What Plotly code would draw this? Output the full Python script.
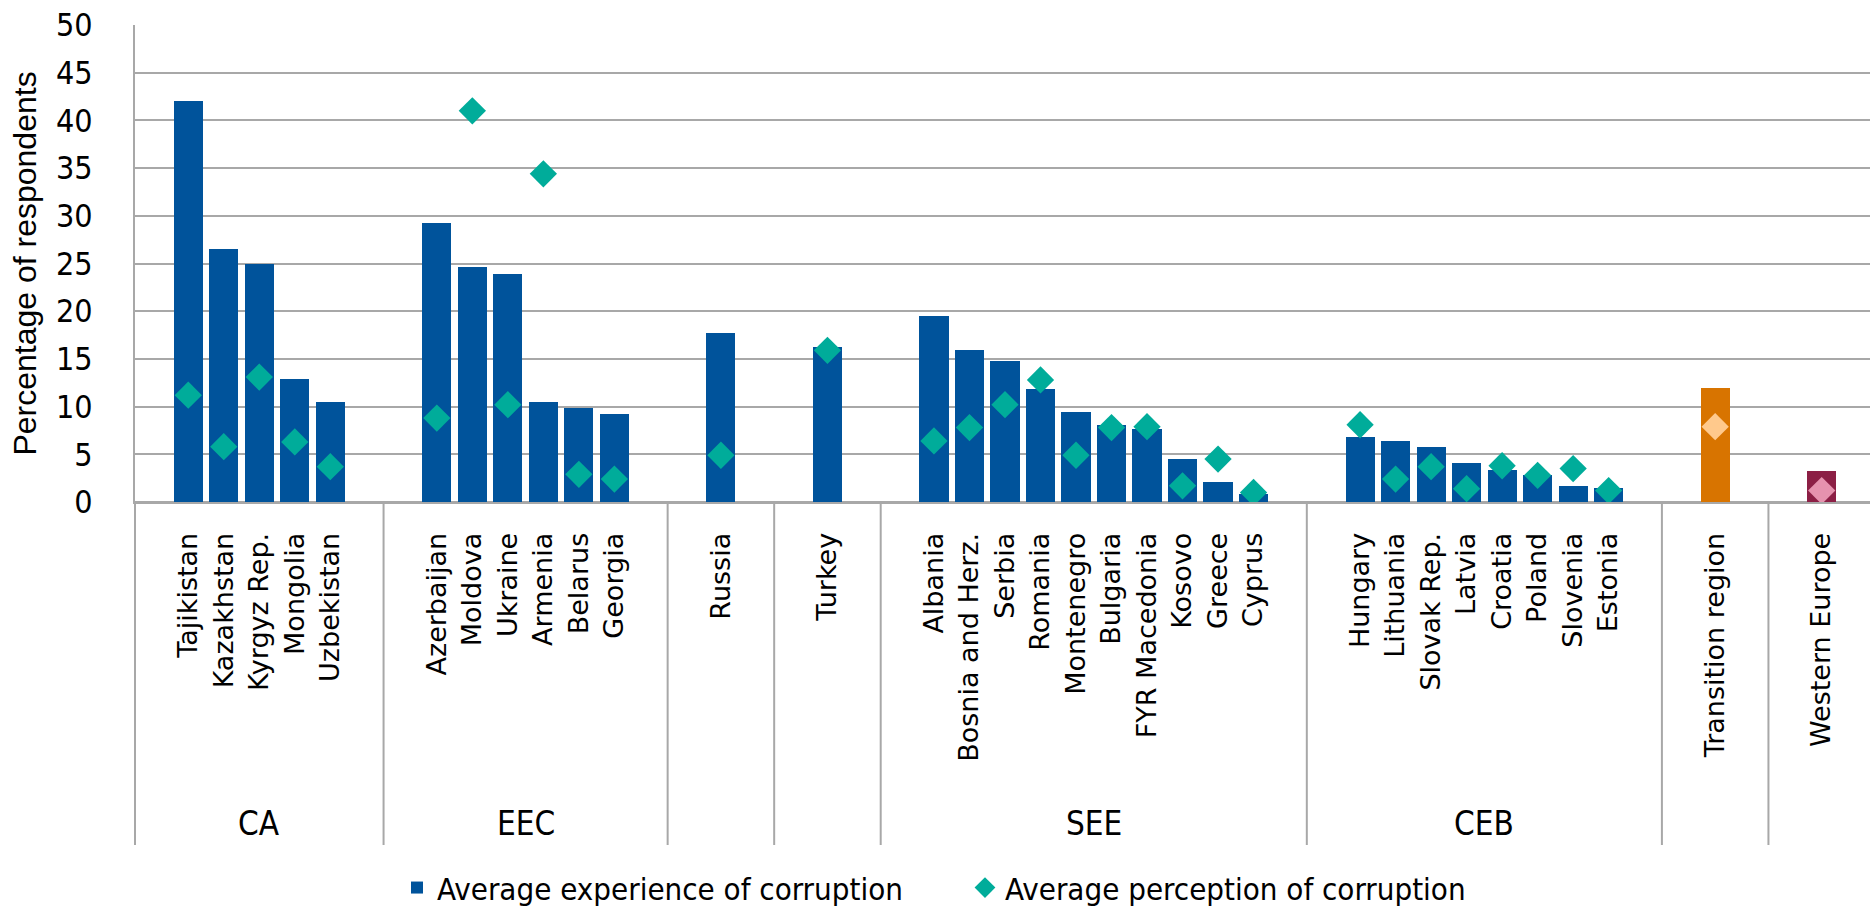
import plotly.graph_objects as go

# ---------------- data ----------------
groups = ["CA", "EEC", "", "", "SEE", "CEB", "", ""]
group_sizes = [5, 6, 1, 1, 10, 8, 1, 1]

countries = [
    "Tajikistan", "Kazakhstan", "Kyrgyz Rep.", "Mongolia", "Uzbekistan",
    "Azerbaijan", "Moldova", "Ukraine", "Armenia", "Belarus", "Georgia",
    "Russia",
    "Turkey",
    "Albania", "Bosnia and Herz.", "Serbia", "Romania", "Montenegro",
    "Bulgaria", "FYR Macedonia", "Kosovo", "Greece", "Cyprus",
    "Hungary", "Lithuania", "Slovak Rep.", "Latvia", "Croatia", "Poland",
    "Slovenia", "Estonia",
    "Transition region",
    "Western Europe",
]

experience = [
    42.0, 26.5, 25.0, 12.9, 10.5,
    29.2, 24.6, 23.9, 10.5, 9.9, 9.2,
    17.7,
    16.3,
    19.5, 15.9, 14.8, 11.8, 9.4, 8.1, 7.7, 4.5, 2.1, 0.8,
    6.8, 6.4, 5.8, 4.1, 3.4, 2.8, 1.7, 1.5,
    12.0,
    3.3,
]

perception = [
    11.2, 5.8, 13.1, 6.3, 3.7,
    8.8, 41.0, 10.2, 34.4, 2.9, 2.4,
    4.9,
    15.9,
    6.4, 7.8, 10.2, 12.8, 4.9, 7.8, 7.9, 1.7, 4.5, 1.0,
    8.1, 2.4, 3.7, 1.4, 3.8, 2.8, 3.5, 1.2,
    7.9,
    1.2,
]

y_ticks = [0, 5, 10, 15, 20, 25, 30, 35, 40, 45, 50]

# ---------------- styles ----------------
BLUE = "#00539B"
TEAL = "#00AC9A"
special_bar = {"Transition region": "#D87400", "Western Europe": "#8C1F45"}
special_dot = {"Transition region": "#FFC98C", "Western Europe": "#E692AE"}
GRID = "#a8a8a8"
NARROW = "DejaVu Sans Condensed, DejaVu Sans, sans-serif"
REG = "Liberation Sans, Arial, sans-serif"

bar_colors = [special_bar.get(c, BLUE) for c in countries]
dot_colors = [special_dot.get(c, TEAL) for c in countries]

# ---------------- slot positions (one blank slot before/after each group) ----
pos = []
bounds = []
slot = 0
for n in group_sizes:
    bounds.append(slot - 0.5)
    slot += 1
    for _ in range(n):
        pos.append(slot)
        slot += 1
    slot += 1
bounds.append(slot - 0.5)

x0, x1 = -0.5, 48.36


def to_paper(v):
    return (v - x0) / (x1 - x0)


fig = go.Figure()
fig.add_trace(go.Bar(
    x=pos, y=experience, width=0.82,
    marker=dict(color=bar_colors, line=dict(width=0)),
    name="Average experience of corruption",
))
fig.add_trace(go.Scatter(
    x=pos, y=perception, mode="markers",
    marker=dict(symbol="diamond", size=21, color=dot_colors, line=dict(width=0)),
    name="Average perception of corruption",
))

shapes = []
for b in bounds:
    p = to_paper(b)
    if p <= 1.0:
        shapes.append(dict(type="line", xref="paper", yref="paper",
                           x0=p, x1=p, y0=0, y1=-0.719,
                           line=dict(color=GRID, width=2)))

annotations = []
for i, g in enumerate(groups):
    if g:
        c = (bounds[i] + bounds[i + 1]) / 2
        annotations.append(dict(text=g, xref="paper", yref="paper",
                                x=to_paper(c), y=-0.673, xanchor="center",
                                yanchor="middle", showarrow=False,
                                font=dict(family=NARROW, size=33, color="black")))

fig.update_layout(
    width=1870, height=909,
    margin=dict(l=135, r=0, t=25, b=407, autoexpand=False),
    paper_bgcolor="white", plot_bgcolor="white",
    showlegend=True,
    legend=dict(orientation="h", x=0.151, xanchor="left", y=-0.809,
                yanchor="middle", font=dict(family=NARROW, size=31, color="black"),
                itemwidth=30, entrywidthmode="pixels", entrywidth=523,
                tracegroupgap=0),
    shapes=shapes, annotations=annotations,
    bargap=0,
)
fig.update_xaxes(
    range=[x0, x1], tickmode="array", tickvals=pos, ticktext=countries,
    tickangle=-90, tickfont=dict(family="DejaVu Sans", size=27, color="black"),
    showgrid=False, showline=True, linecolor=GRID, linewidth=2,
    ticks="", ticklabelstandoff=18, zeroline=False, automargin=False,
    ticklabeloverflow="allow",
)
fig.update_yaxes(
    range=[0, 50], tickmode="array", tickvals=y_ticks,
    tickfont=dict(family=NARROW, size=32, color="black"),
    showgrid=True, gridcolor=GRID, gridwidth=2,
    showline=True, linecolor=GRID, linewidth=2,
    zeroline=True, zerolinecolor=GRID, zerolinewidth=2,
    ticks="", ticklabelstandoff=34, automargin=False,
    ticklabeloverflow="allow",
    title=dict(text="Percentage of respondents", standoff=10,
               font=dict(family=REG, size=32, color="black")),
)

# remove the browser's default 8px page margin so the figure fills the window
fig.write_html("out.html", config={"displayModeBar": False},
               post_script="document.body.style.margin='0';")
